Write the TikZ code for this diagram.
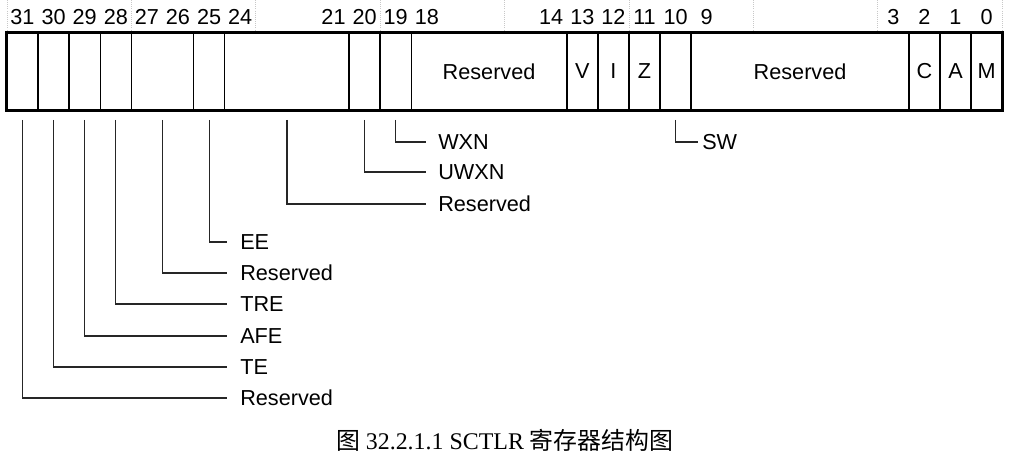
\documentclass[tikz,border=0pt]{standalone}
\usepackage{fontspec}
\setmainfont{Liberation Sans}
\newfontfamily\capserif{Liberation Serif}
\newfontfamily\cjk{Noto Sans CJK SC}
\usepackage{tikz}
\usetikzlibrary{positioning,calc}
\definecolor{GridGray}{RGB}{200,200,200}
\tikzset{
  field/.style={draw=black,line width=1.1pt,minimum height=1.925cm,
                inner sep=0pt,font=\fontsize{15.4}{18}\selectfont},
  bitno/.style={inner sep=0pt,font=\fontsize{15.4}{18}\selectfont},
  lbl/.style={anchor=west,inner xsep=0.3cm,inner ysep=0pt,
              font=\fontsize{15.4}{18}\selectfont},
  lead/.style={line width=0.9pt,black!85},
  gridln/.style={GridGray,line width=0.5pt,densely dotted},
  figcap/.style={inner sep=0pt,font=\fontsize{17}{20}\selectfont},
}
\begin{document}
\begin{tikzpicture}[x=0.025cm,y=-0.025cm]
  \useasboundingbox (0,0) rectangle (1012,461);
  % faint column rules above the register
  \foreach \k in {0,...,8}
    \draw[gridln] ({7+\k*4*31.1},0) -- ({7+\k*4*31.1},33);
  % bit numbers
  \foreach \b in {31,30,29,28,27,26,25,24,21,20,19,18,14,13,12,11,10,9,3,2,1,0}
    \node[bitno] (b\b) at ({7+(31-\b)*31.1+15.5},17) {\b};
  % register fields
  \foreach \hi/\lo/\txt/\nm in {31/31//f31,30/30//f30,29/29//f29,28/28//f28,
      27/26//f2726,25/25//f25,24/21//f2421,20/20//f20,19/19//f19,
      18/14/Reserved/f1814,13/13/V/f13,12/12/I/f12,11/11/Z/f11,10/10//f10,
      9/3/Reserved/f93,2/2/C/f2,1/1/A/f1,0/0/M/f0}{
    \pgfmathsetmacro\fw{(\hi-\lo+1)*31.1*0.025}
    \pgfmathsetmacro\fx{7+(31-\hi)*31.1+(\hi-\lo+1)*31.1/2}
    \node[field,minimum width=\fw cm] (\nm) at (\fx,71.5) {\txt};
  }
  \draw[line width=1.6pt] (f31.north west) rectangle (f0.south east);
  % field names
  \node[lbl] (wxn) at (426,142) {WXN};
  \node[lbl] (uwxn) at (426,172) {UWXN};
  \node[lbl] (res2421) at (426,204) {Reserved};
  \node[lbl,inner xsep=0.1cm] (sw) at (698,142) {SW};
  \node[lbl,inner xsep=0.325cm] (ee) at (227,242) {EE};
  \node[lbl,inner xsep=0.325cm] (res2726) at (227,273) {Reserved};
  \node[lbl,inner xsep=0.325cm] (tre) at (227,304) {TRE};
  \node[lbl,inner xsep=0.325cm] (afe) at (227,336) {AFE};
  \node[lbl,inner xsep=0.325cm] (te) at (227,367) {TE};
  \node[lbl,inner xsep=0.325cm] (res31) at (227,398) {Reserved};
  % leaders
  \draw[lead] (f19.south) ++(0,9) |- (wxn.west);
  \draw[lead] (f20.south) ++(0,9) |- (uwxn.west);
  \draw[lead] (f2421.south) ++(0,9) |- (res2421.west);
  \draw[lead] (f10.south) ++(0,9) |- (sw.west);
  \draw[lead] (f25.south) ++(0,9) |- (ee.west);
  \draw[lead] (f2726.south) ++(0,9) |- (res2726.west);
  \draw[lead] (f28.south) ++(0,9) |- (tre.west);
  \draw[lead] (f29.south) ++(0,9) |- (afe.west);
  \draw[lead] (f30.south) ++(0,9) |- (te.west);
  \draw[lead] (f31.south) ++(0,9) |- (res31.west);
  % caption
  \node[figcap] (caption) at (505,440) {\cjk 图 \capserif 32.2.1.1 SCTLR \cjk 寄存器结构图};
\end{tikzpicture}
\end{document}
